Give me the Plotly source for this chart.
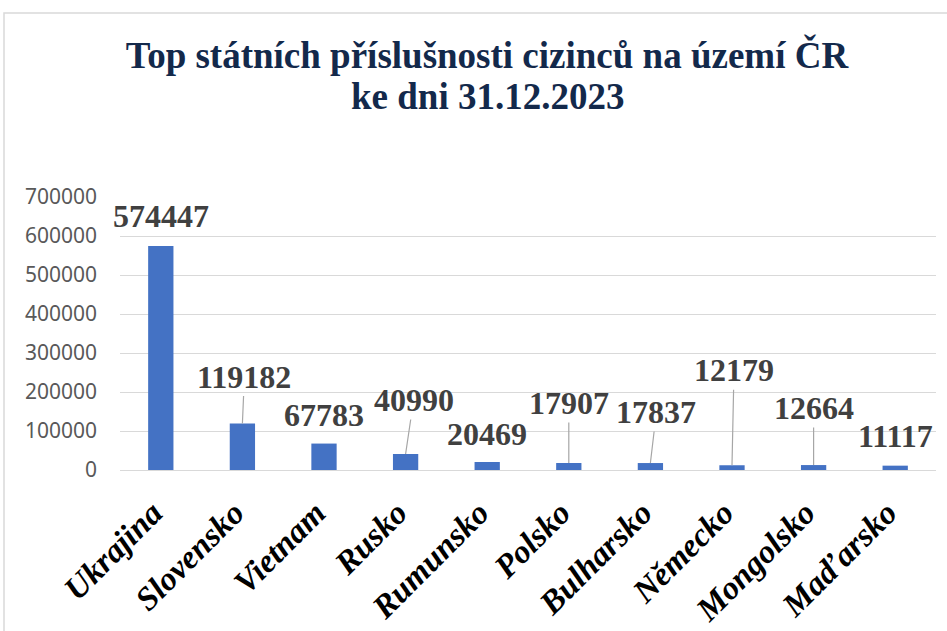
import plotly.graph_objects as go

countries = ["Ukrajina", "Slovensko", "Vietnam", "Rusko", "Rumunsko",
             "Polsko", "Bulharsko", "Německo", "Mongolsko", "Maďarsko"]
counts = [574447, 119182, 67783, 40990, 20469, 17907, 17837, 12179, 12664, 11117]
y_ticks = [0, 100000, 200000, 300000, 400000, 500000, 600000, 700000]
title_line1 = "Top státních příslušnosti cizinců na území ČR"
title_line2 = "ke dni 31.12.2023"

# label placement (pixel offsets of label from bar top) and leader visibility
label_dx = [0, 2, 0, 8, 0, 0, 6, 2, 0, 0]
label_dy = [-30, -47, -29, -54, -28, -60, -51, -95, -57, -30]
leader = [False, True, False, True, False, True, True, True, True, False]

W, H = 947, 631
L, R, T, B = 120, 11, 197, 161
SERIF = "Liberation Serif, Times New Roman, serif"
pw = W - L - R
ph = H - T - B


def px_x(px):
    return (px - L) / pw


def px_y(py):
    return (H - B - py) / ph


fig = go.Figure()
fig.add_trace(go.Bar(
    x=countries, y=counts,
    marker=dict(color="#4472C4", line=dict(width=0)),
    width=0.31,
    hoverinfo="x+y",
))

for c, v, dx, dy, ld in zip(countries, counts, label_dx, label_dy, leader):
    fig.add_annotation(
        x=c, y=v, xref="x", yref="y",
        text=str(v),
        showarrow=True, arrowhead=0, arrowwidth=1.2,
        arrowcolor="#a6a6a6" if ld else "rgba(0,0,0,0)",
        ax=dx, ay=dy, standoff=0,
        font=dict(family=SERIF, size=32, color="#404040", weight="bold"),
    )

# second title line
fig.add_annotation(
    x=px_x(487), y=px_y(96), xref="paper", yref="paper",
    xanchor="center", yanchor="middle", showarrow=False,
    text=title_line2,
    font=dict(family=SERIF, size=37, color="#13294B", weight="bold"),
)

# outer chart frame
fig.add_shape(
    type="rect", xref="paper", yref="paper",
    x0=px_x(4), x1=px_x(W + 5), y0=px_y(H + 5), y1=px_y(13),
    line=dict(color="#d9d9d9", width=1.5), fillcolor="rgba(0,0,0,0)",
    layer="below",
)

fig.update_layout(
    width=W, height=H,
    margin=dict(l=L, r=R, t=T, b=B, autoexpand=False),
    paper_bgcolor="white", plot_bgcolor="white",
    showlegend=False,
    title=dict(
        text=title_line1,
        x=487 / W, xanchor="center", xref="container",
        y=1 - 55 / H, yanchor="middle", yref="container",
        font=dict(family=SERIF, size=37, color="#13294B", weight="bold"),
    ),
    xaxis=dict(
        range=[-0.5, len(countries) - 0.5],
        tickangle=-45,
        tickfont=dict(family=SERIF, size=33, color="black",
                      weight="bold", style="italic"),
        showgrid=False, showline=False, ticks="",
        ticklabelstandoff=16, ticklabelshift=-8,
    ),
    yaxis=dict(
        range=[0, 700000],
        tickvals=y_ticks,
        ticktext=[str(t) for t in y_ticks],
        tickfont=dict(family="Noto Sans", size=21, color="#595959"),
        showgrid=True, gridcolor="#d9d9d9", gridwidth=1.3,
        zeroline=True, zerolinecolor="#d9d9d9", zerolinewidth=1.3,
        showline=False, ticks="", ticklabelstandoff=22,
    ),
)

fig.write_html(
    "out.html",
    config={"displayModeBar": False},
    post_script="document.body.style.margin='0';document.body.style.overflow='hidden';",
)
